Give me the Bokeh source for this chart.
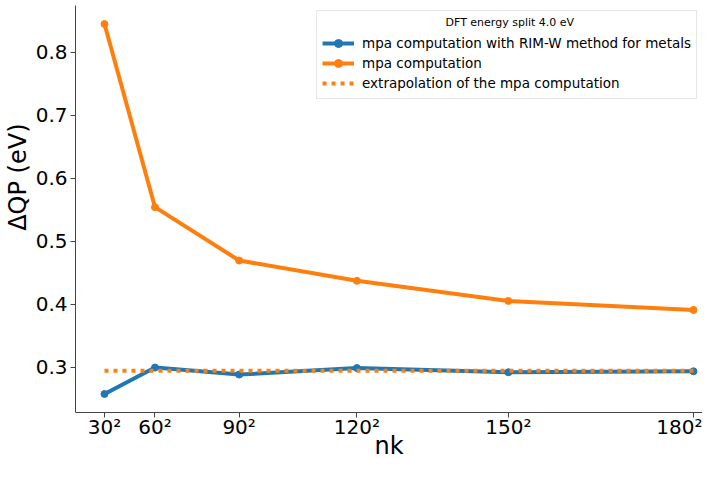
from bokeh.plotting import figure
from bokeh.models import Range1d, FixedTicker, Label, Legend, LegendItem, Title
from bokeh.embed import file_html
from bokeh.resources import INLINE

# ---- data ----
nk = [30**2, 60**2, 90**2, 120**2, 150**2, 180**2]
tick_labels = ["30²", "60²", "90²", "120²", "150²", "180²"]
rimw = [0.2578, 0.2997, 0.2886, 0.2990, 0.2923, 0.2938]
mpa = [0.845, 0.5543, 0.4697, 0.4374, 0.4055, 0.3912]
extrap = [0.2948, 0.2948]
extrap_x = [30**2, 180**2]
y_ticks = [0.3, 0.4, 0.5, 0.6, 0.7, 0.8]

BLUE = "#1f77b4"
ORANGE = "#ff7f0e"
FONT = "DejaVu Sans"

x0, x1 = -651, 32882
y0, y1 = 0.2284, 0.8744

p = figure(width=702, height=462, output_backend="svg", toolbar_location=None,
           x_range=Range1d(x0, x1), y_range=Range1d(y0, y1),
           min_border_left=74, min_border_right=0, min_border_top=5, min_border_bottom=0)
p.outline_line_color = None
p.xgrid.visible = False
p.ygrid.visible = False
p.background_fill_color = "white"

r_blue = p.line(nk, rimw, line_color=BLUE, line_width=4)
r_blue_m = p.scatter(nk, rimw, size=7, fill_color=BLUE, line_color=BLUE)
r_or = p.line(nk, mpa, line_color=ORANGE, line_width=4)
r_or_m = p.scatter(nk, mpa, size=7, fill_color=ORANGE, line_color=ORANGE)
r_ex = p.line(extrap_x, extrap, line_color=ORANGE, line_width=4, line_dash="4 5")

# axes
p.xaxis.ticker = FixedTicker(ticks=nk)
p.xaxis.major_label_overrides = {n: t for n, t in zip(nk, tick_labels)}
p.yaxis.ticker = FixedTicker(ticks=y_ticks)
for ax in (p.xaxis[0], p.yaxis[0]):
    ax.major_label_text_font = FONT
    ax.major_label_text_font_size = "20px"
    ax.major_label_text_color = "black"
    ax.axis_line_color = "#444444"
    ax.major_tick_line_color = "#444444"
    ax.major_tick_out = 5
    ax.major_tick_in = 0
    ax.minor_tick_out = 0
    ax.minor_tick_in = 0
    ax.major_label_standoff = 3
p.xaxis.major_label_standoff = -3
p.xaxis.axis_label = "nk"
p.xaxis.axis_label_text_font = FONT
p.xaxis.axis_label_text_font_size = "24px"
p.xaxis.axis_label_text_font_style = "normal"
p.xaxis.axis_label_text_color = "black"
p.xaxis.axis_label_standoff = -10

# y-axis title
p.add_layout(Title(text="ΔQP (eV)", align="right", offset=118, standoff=2,
                   text_font=FONT, text_font_size="24px", text_font_style="normal",
                   text_color="black"), "left")

legend = Legend(items=[
    LegendItem(label="mpa computation with RIM-W method for metals", renderers=[r_blue, r_blue_m]),
    LegendItem(label="mpa computation", renderers=[r_or, r_or_m]),
    LegendItem(label="extrapolation of the mpa computation", renderers=[r_ex]),
], location="top_right")
legend.title = "\u00a0"
legend.title_text_font = FONT
legend.title_text_font_size = "11px"
legend.title_standoff = 4
legend.label_text_font = FONT
legend.label_text_font_size = "13.5px"
legend.label_text_color = "black"
legend.label_height = 20
legend.glyph_height = 20
legend.glyph_width = 32
legend.spacing = 0
legend.padding = 5
legend.margin = 5
legend.label_standoff = 8
legend.border_line_color = "#cccccc"
legend.background_fill_alpha = 0
p.add_layout(legend)

# legend title centred over the legend box
p.add_layout(Label(x=x1 - 193 / 628 * (x1 - x0), y=y1 - 17 / 414 * (y1 - y0),
                   text="DFT energy split 4.0 eV", text_align="center", text_baseline="middle",
                   text_font=FONT, text_font_size="11px", text_color="black", level="overlay"))

open("out.html", "w").write(file_html(p, INLINE))
